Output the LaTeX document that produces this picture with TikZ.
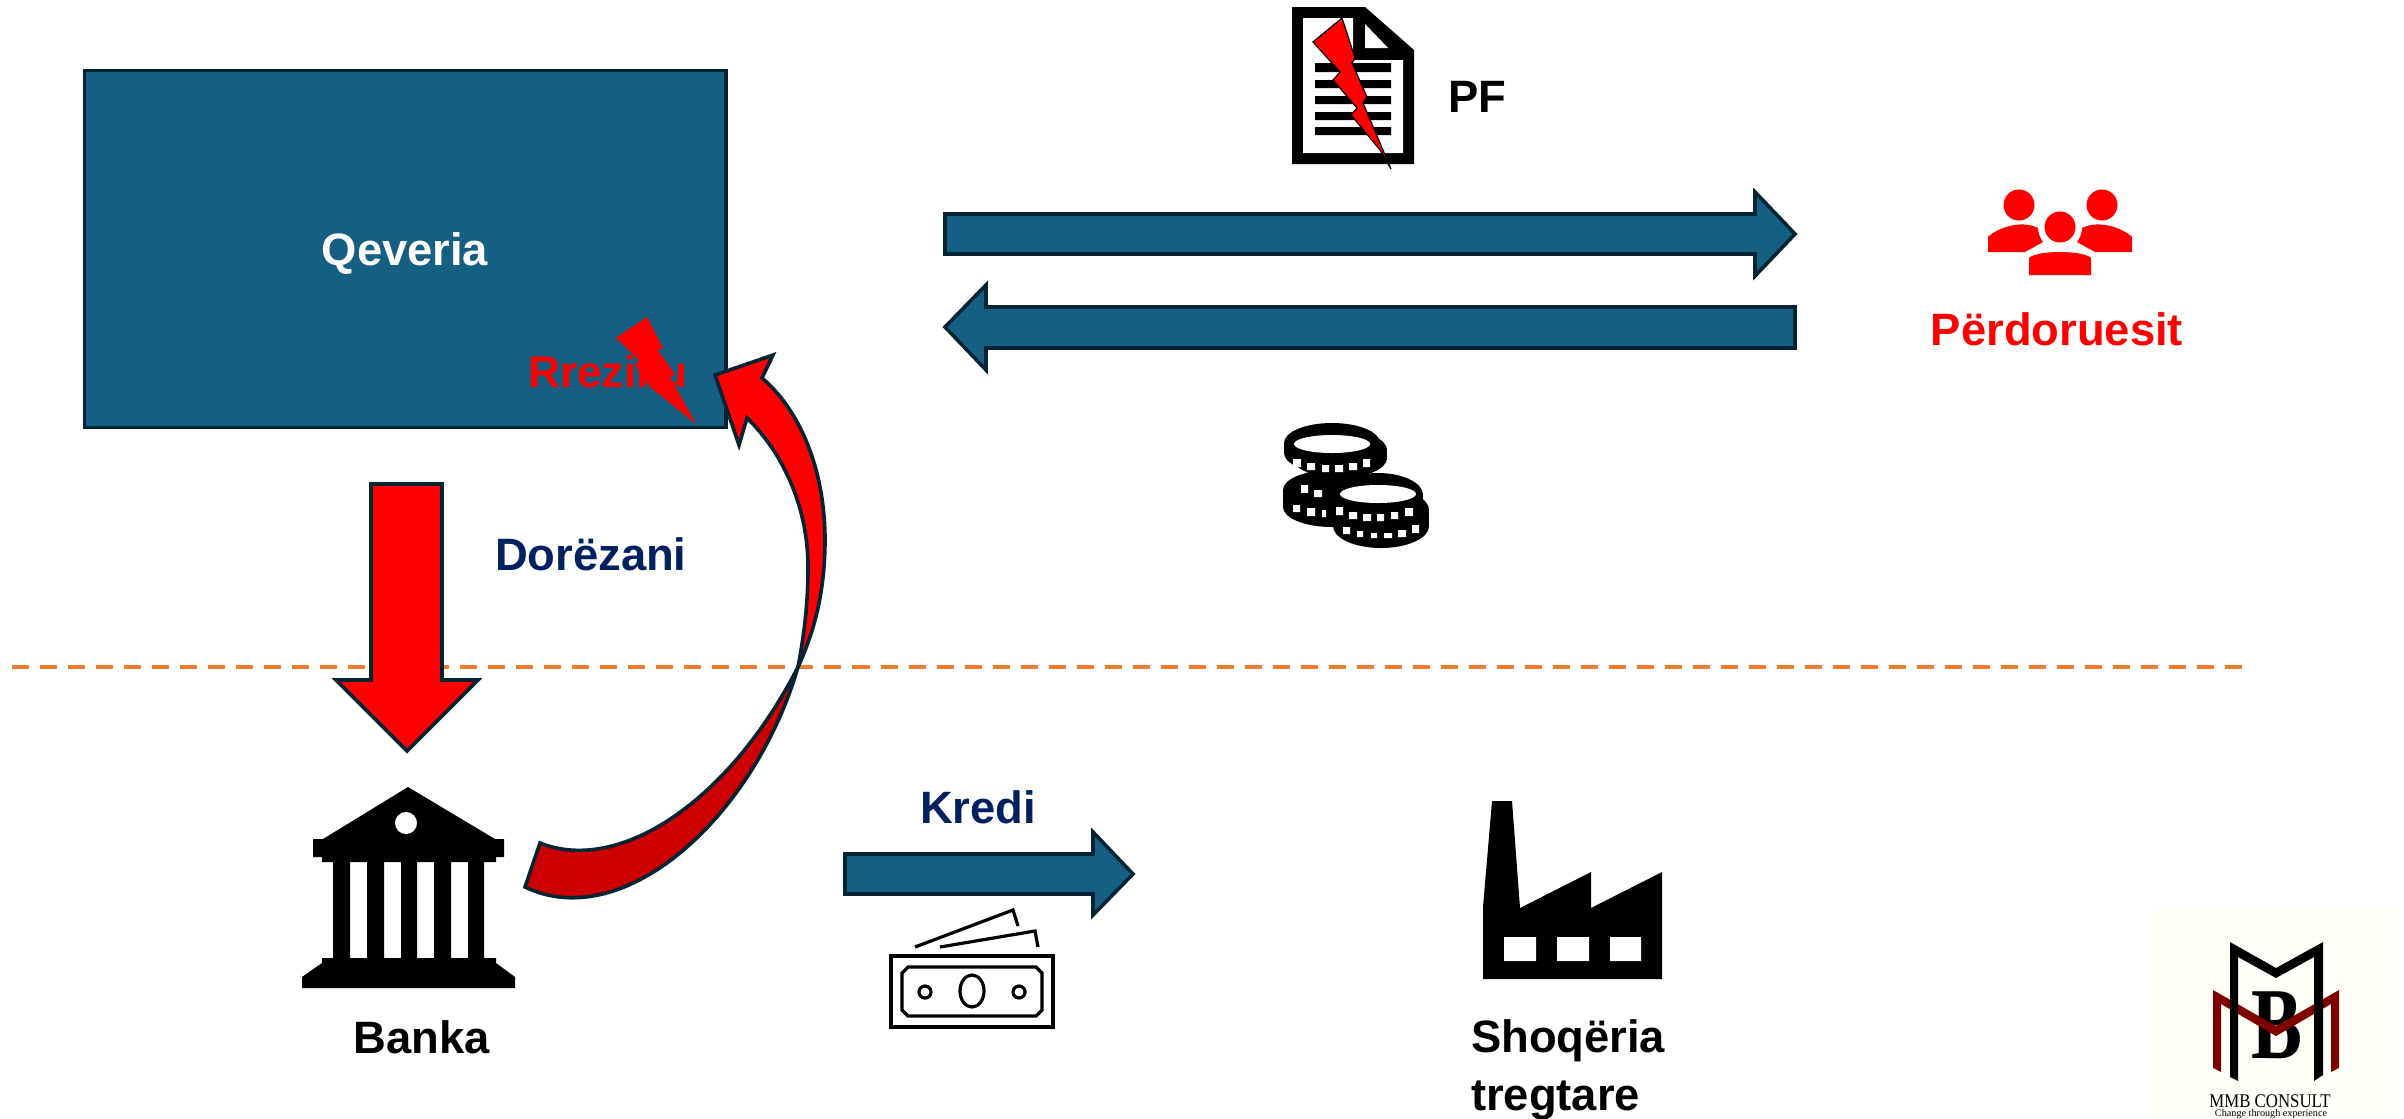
\documentclass[tikz,border=0pt]{standalone}
\usepackage{fontspec}
\setmainfont{Liberation Sans}
\newfontfamily\logofont{Liberation Serif}
\usetikzlibrary{shapes,arrows}
\definecolor{mmbTeal}{RGB}{21,96,130}
\definecolor{mmbEdge}{RGB}{4,36,51}
\definecolor{mmbNavy}{RGB}{0,32,96}
\definecolor{mmbOrange}{RGB}{237,125,49}
\definecolor{mmbDarkRed}{RGB}{204,0,0}
\definecolor{mmbMaroon}{RGB}{128,0,0}
\definecolor{mmbCream}{RGB}{255,255,248}
\newcommand{\coinpart}[5]{%
  \fill (#1,#2) ellipse[x radius=#4cm,y radius=#5cm];
  \fill (#1,#3) ellipse[x radius=#4cm,y radius=#5cm];
  \fill ([xshift=-#4cm]#1,#2) rectangle ([xshift=#4cm]#1,#3);}

\begin{document}
\begin{tikzpicture}[x=0.01cm, y=-0.01cm]%
  \tikzset{label text/.style={inner sep=0pt, outer sep=0pt, font=\fontsize{12.9}{16.8}\selectfont\bfseries, align=left}}
  \tikzset{block arrow/.style={draw=mmbEdge, line width=0.036cm, line join=miter}}
  \useasboundingbox (0,0) rectangle (2404,1118);

  \coordinate (dashLeft) at (12,667);
  \coordinate (dashRight) at (2244,667);
  \draw[mmbOrange, line width=0.036cm, dash pattern=on 0.17cm off 0.11cm] (dashLeft) -- (dashRight);

  \node[draw=mmbEdge, fill=mmbTeal, line width=0.036cm, inner sep=0pt, minimum width=6.41cm, minimum height=3.57cm] (QeveriaBox) at (405,249) {};
  \node[label text, text=white, anchor=base] (Qeveria) at (405,265) {Qeveria};
  \node[label text, text=red, anchor=base west, font=\fontsize{12.6}{16.8}\selectfont\bfseries] (Rreziku) at (528,387) {Rreziku};
  \fill[red] (616,338) -- (639,360) -- (635,365) -- (650,387) -- (696,424) -- (670,377) -- (675,375) -- (658,350) -- (663,348) -- (647,317) -- cycle;

  % block arrows
  \path[block arrow, fill=mmbTeal] (945,214) -- (1755,214) -- (1755,192) -- (1795,234) -- (1755,276) -- (1755,254) -- (945,254) -- cycle;
  \path[block arrow, fill=mmbTeal] (1795,307) -- (986,307) -- (986,285) -- (945,327) -- (986,370) -- (986,348) -- (1795,348) -- cycle;
  \path[block arrow, fill=mmbTeal] (845,854) -- (1093,854) -- (1093,832) -- (1133,874) -- (1093,915) -- (1093,894) -- (845,894) -- cycle;
  \path[block arrow, fill=red] (371,484) -- (442,484) -- (442,680) -- (478,680) -- (407,751) -- (336,680) -- (371,680) -- cycle;

  % curved arrow, tail then head
  \path[block arrow, fill=mmbDarkRed] (525,887) -- (540,843) .. controls (620,875) and (730,800) .. (798,667) .. controls (755,815) and (625,935) .. (525,887) -- cycle;
  \path[block arrow, fill=red] (798,667) .. controls (815,630) and (825,590) .. (825,540) .. controls (825,470) and (800,410) .. (762,378) -- (773,355) -- (715,375) -- (739,445) -- (747,418) .. controls (785,455) and (808,510) .. (808,567) .. controls (808,600) and (805,630) .. (798,667) -- cycle;

  \node[label text, text=mmbNavy, anchor=base west] (Dorezani) at (495,570) {Dorëzani};
  \node[label text, text=mmbNavy, anchor=base west] (Kredi) at (920,823) {Kredi};
  \node[label text, anchor=base west] (PF) at (1448,112) {PF};
  \node[label text, text=red, anchor=base] (Perdoruesit) at (2057,345) {Përdoruesit};
  \node[label text, anchor=base] (Banka) at (422,1053) {Banka};
  \node[label text, anchor=base west] (Shoqeria) at (1471,1052) {Shoqëria};
  \node[label text, anchor=base west] (tregtare) at (1471,1110) {tregtare};

  % document
  \fill (1292,7) -- (1365,7) -- (1414,50) -- (1414,164) -- (1292,164) -- cycle;
  \fill[white] (1303,18) -- (1353,18) -- (1353,60) -- (1403,60) -- (1403,153) -- (1303,153) -- cycle;
  \fill[white] (1365,24) -- (1388,48) -- (1365,48) -- cycle;
  \fill (1315,63) rectangle (1391,72) (1315,80) rectangle (1391,88) (1315,96) rectangle (1391,104) (1315,112) rectangle (1391,120) (1315,127) rectangle (1391,135);
  \draw[fill=red, line width=0.012cm] (1342,18) -- (1313,42) -- (1340,72) -- (1333,80) -- (1357,108) -- (1351,115) -- (1380,150) -- (1391,169) -- (1363,103) -- (1367,97) -- (1352,63) -- (1355,58) -- cycle;

  % users
  \fill[red] (2019,205) circle (0.155cm) (2102,205) circle (0.155cm) (2060,227) circle (0.155cm);
  \fill[red] (1988,252) -- (1988,237) .. controls (1996,229) and (2020,219) .. (2038,228) .. controls (2038,233) and (2040,238) .. (2043,242) -- (2025,252) -- cycle;
  \fill[red] (2132,252) -- (2132,237) .. controls (2124,229) and (2100,219) .. (2082,228) .. controls (2082,233) and (2080,238) .. (2077,242) -- (2095,252) -- cycle;
  \fill[red] (2029,275) -- (2029,258) .. controls (2037,250) and (2083,250) .. (2091,258) -- (2091,275) -- cycle;

  % coins
  \coinpart{1332}{443}{453}{.48}{.20}
  \coinpart{1340}{450}{458}{.47}{.20}
  \coinpart{1332}{490}{507}{.49}{.20}
  \coinpart{1378}{495}{510}{.45}{.22}
  \coinpart{1381}{510}{526}{.48}{.22}
  \fill[white] (1332,444) ellipse[x radius=.38cm, y radius=.09cm] (1378,494) ellipse[x radius=.38cm, y radius=.09cm];
  \fill[white] (1293,459) rectangle (1301,467) (1307,463) rectangle (1315,470) (1322,465) rectangle (1329,472) (1335,465) rectangle (1343,472) (1349,463) rectangle (1357,470) (1363,459) rectangle (1370,467);
  \fill[white] (1301,485) rectangle (1308,493) (1314,490) rectangle (1322,497) (1293,505) rectangle (1300,512) (1307,508) rectangle (1315,516) (1322,510) rectangle (1326,517);
  \fill[white] (1336,507) rectangle (1343,515) (1349,512) rectangle (1357,519) (1363,514) rectangle (1371,521) (1377,514) rectangle (1384,521) (1391,512) rectangle (1398,519) (1405,508) rectangle (1413,516);
  \fill[white] (1343,527) rectangle (1350,534) (1357,531) rectangle (1363,537) (1371,533) rectangle (1377,538) (1384,533) rectangle (1392,538) (1398,530) rectangle (1406,537) (1412,525) rectangle (1419,533);

  % bank
  \fill (408,787) -- (495,839) -- (504,839) -- (504,857) -- (496,857) -- (496,862) -- (322,862) -- (322,857) -- (313,857) -- (313,839) -- (323,839) -- cycle;
  \fill[white] (406,823) circle (0.11cm);
  \fill (333,862) rectangle (350,958) (367,862) rectangle (384,958) (401,862) rectangle (417,958) (434,862) rectangle (451,958) (468,862) rectangle (484,958);
  \fill (322,958) -- (496,958) -- (496,963) -- (515,977) -- (515,988) -- (302,988) -- (302,977) -- (322,963) -- cycle;

  % banknotes
  \draw[line width=0.036cm] (891,956) rectangle (1053,1027);
  \draw[line width=0.032cm] (908,967) -- (1036,967) -- (1042,973) -- (1042,1010) -- (1036,1016) -- (908,1016) -- (902,1010) -- (902,973) -- cycle;
  \draw[line width=0.032cm] (972,991) ellipse[x radius=.12cm, y radius=.16cm];
  \draw[line width=0.032cm] (925,992) circle (0.06cm) (1019,992) circle (0.06cm);
  \draw[line width=0.032cm] (915,947) -- (1013,910) -- (1018,926);
  \draw[line width=0.032cm] (940,947) -- (1035,931) -- (1038,947);

  % factory
  \fill (1492,801) -- (1512,801) -- (1520,908) -- (1591,872) -- (1591,908) -- (1662,872) -- (1662,979) -- (1483,979) -- (1483,907) -- cycle;
  \fill[white] (1504,937) rectangle (1536,961) (1557,937) rectangle (1589,961) (1610,937) rectangle (1641,961);

  % logo
  \fill[mmbCream] (2153,909) rectangle (2398,1118);
  \node[inner sep=0pt, xscale=0.75, font=\fontsize{29}{29}\selectfont\logofont\bfseries] (logoB) at (2277,1025) {B};
  \fill[mmbMaroon] (2213,990) -- (2276,1026) -- (2339,990) -- (2339,1068) -- (2331,1072) -- (2331,1004) -- (2276,1036) -- (2221,1004) -- (2221,1072) -- (2213,1068) -- cycle;
  \fill (2230,942) -- (2276,968) -- (2323,942) -- (2323,1075) -- (2314,1081) -- (2314,957) -- (2276,978) -- (2238,957) -- (2238,1081) -- (2230,1077) -- cycle;
  \node[inner sep=0pt, xscale=0.87, font=\fontsize{5.5}{6}\selectfont\logofont, anchor=base] (logoName) at (2270,1107) {MMB CONSULT};
  \node[inner sep=0pt, font=\fontsize{2.9}{4}\selectfont\logofont, anchor=base] (logoTag) at (2271,1116) {Change through experience};
\end{tikzpicture}
\end{document}
